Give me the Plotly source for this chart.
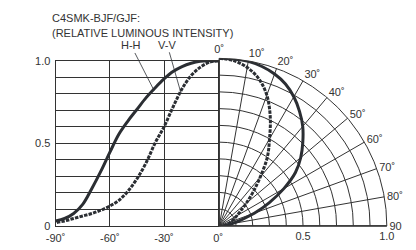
import plotly.graph_objects as go

# ---- data ----
angles = [0, 5, 10, 15, 20, 25, 30, 35, 40, 45, 50, 55, 60, 65, 70, 75, 80, 85, 90]
hh = [1.0, 1.0, 0.997, 0.985, 0.965, 0.935, 0.89, 0.835, 0.775, 0.705, 0.635, 0.555, 0.445, 0.33, 0.225, 0.13, 0.075, 0.045, 0.03]
vv = [1.0, 0.99, 0.96, 0.91, 0.83, 0.72, 0.60, 0.50, 0.38, 0.285, 0.21, 0.155, 0.12, 0.095, 0.075, 0.06, 0.045, 0.03, 0.02]

x_ticks = [-90, -60, -30, 0]
x_ticktext = ["-90˚", "-60˚", "-30˚", "0˚"]
y_ticks = [round(0.1 * i, 1) for i in range(11)]
y_ticktext = ["0", "", "", "", "", "0.5", "", "", "", "", "1.0"]
ang_ticks = list(range(0, 100, 10))
ang_ticktext = [f"{a}˚" if a < 90 else "90" for a in ang_ticks]
r_ticks = [round(0.1 * i, 1) for i in range(1, 11)]
r_ticktext = ["", "", "", "", "0.5", "", "", "", "", "1.0"]

title1 = "C4SMK-BJF/GJF:"
title2 = "(RELATIVE LUMINOUS INTENSITY)"

W, H = 416, 250
x0, x1 = 47.3, 216.0          # cartesian plot left/right (px)
yb, yt = 231.0, 57.5          # cartesian plot bottom/top (px)
R = 176.0                     # polar radius (px)

INK = "#2b2e33"
GRID = "#333333"
FONT = dict(family="Liberation Sans, Arial, sans-serif", size=11, color="#333333")

fig = go.Figure()

neg = [-a for a in angles]
fig.add_trace(go.Scatter(x=neg, y=hh, mode="lines", line=dict(color=INK, width=3, shape="spline"),
                         showlegend=False, hoverinfo="skip"))
fig.add_trace(go.Scatter(x=neg, y=vv, mode="lines", line=dict(color=INK, width=3, dash="3.5px,1.2px", shape="spline"),
                         showlegend=False, hoverinfo="skip"))

fig.add_trace(go.Scatterpolar(r=hh, theta=angles, mode="lines", line=dict(color=INK, width=3, shape="spline"),
                              showlegend=False, hoverinfo="skip"))
fig.add_trace(go.Scatterpolar(r=vv, theta=angles, mode="lines", line=dict(color=INK, width=3, dash="3.5px,1.2px", shape="spline"),
                              showlegend=False, hoverinfo="skip"))

fig.update_layout(
    width=W, height=H,
    margin=dict(l=0, r=0, t=0, b=0),
    paper_bgcolor="white", plot_bgcolor="white",
    font=FONT,
    xaxis=dict(domain=[x0 / W, x1 / W], range=[-90, 0], tickvals=x_ticks, ticktext=x_ticktext,
               showgrid=True, gridcolor=GRID, gridwidth=1, zeroline=False,
               showline=True, linecolor=GRID, linewidth=1, mirror=True, ticks="", ticklen=0,
               ticklabelstandoff=2, tickfont=FONT),
    yaxis=dict(domain=[(H - yb) / H, (H - yt) / H], range=[0, 1], tickvals=y_ticks, ticktext=y_ticktext,
               showgrid=True, gridcolor=GRID, gridwidth=1, zeroline=False,
               showline=True, linecolor=GRID, linewidth=1, mirror=True, ticks="", ticklen=0,
               ticklabelstandoff=2, tickfont=FONT),
    polar=dict(
        domain=dict(x=[x1 / W, (x1 + R) / W], y=[(H - yb) / H, (H - yb + R) / H]),
        sector=[0, 90],
        bgcolor="rgba(0,0,0,0)",
        angularaxis=dict(rotation=90, direction="clockwise", tickvals=ang_ticks, ticktext=ang_ticktext,
                         showgrid=True, gridcolor=GRID, gridwidth=1, showline=True, linecolor=GRID,
                         linewidth=1, ticks="", tickfont=FONT),
        radialaxis=dict(range=[0, 1], tickvals=r_ticks, ticktext=r_ticktext, angle=0,
                        showgrid=True, gridcolor=GRID, gridwidth=1, showline=True, linecolor=GRID,
                        linewidth=1, ticks="", tickfont=FONT, tickangle=0),
    ),
    annotations=[
        dict(text=title1, xref="paper", yref="paper", x=42 / W, y=(H - 13) / H,
             xanchor="left", yanchor="middle", showarrow=False, font=FONT),
        dict(text=title2, xref="paper", yref="paper", x=42 / W, y=(H - 28) / H,
             xanchor="left", yanchor="middle", showarrow=False, font=FONT),
        dict(text="H-H", xref="x", yref="y", x=-35.5, y=0.82, ax=-23, ay=-45,
             showarrow=True, arrowhead=0, arrowwidth=0.8, arrowcolor=INK, font=FONT, standoff=0),
        dict(text="V-V", xref="x", yref="y", x=-20.5, y=0.80, ax=-14, ay=-49,
             showarrow=True, arrowhead=0, arrowwidth=0.8, arrowcolor=INK, font=FONT, standoff=0),
    ],
)

fig.write_html("out.html", config={"displayModeBar": False, "staticPlot": True})

# remove the browser's default page margin so the figure sits at the window's top-left corner
with open("out.html", "r", encoding="utf-8") as f:
    html = f.read()
html = html.replace("<head>", "<head><style>html,body{margin:0;padding:0;overflow:hidden;}</style>", 1)
with open("out.html", "w", encoding="utf-8") as f:
    f.write(html)
